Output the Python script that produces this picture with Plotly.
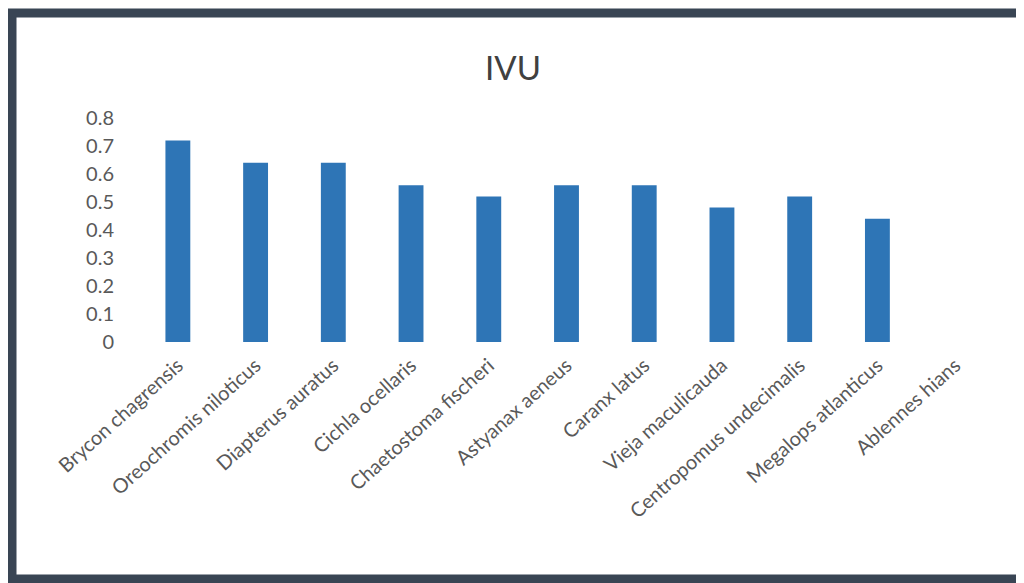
import plotly.graph_objects as go

species = [
    "Brycon chagrensis", "Oreochromis niloticus", "Diapterus auratus",
    "Cichla ocellaris", "Chaetostoma fischeri", "Astyanax aeneus",
    "Caranx latus", "Vieja maculicauda", "Centropomus undecimalis",
    "Megalops atlanticus", "Ablennes hians",
]
ivu = [0.72, 0.64, 0.64, 0.56, 0.52, 0.56, 0.56, 0.48, 0.52, 0.44, 0.0]
y_ticks = [0, 0.1, 0.2, 0.3, 0.4, 0.5, 0.6, 0.7, 0.8]
y_tick_text = ["0", "0.1", "0.2", "0.3", "0.4", "0.5", "0.6", "0.7", "0.8"]

# the page adds an 8px body margin; figure coords = screen coords - OFF
OFF = 8
W, H = 1024, 583
ML, MT = 139 - OFF, 118 - OFF
PR, PB = 994 - OFF, 342 - OFF
MR, MB = W - PR, H - PB
PW, PH = PR - ML, PB - MT


def px_x(p):
    return (p - OFF - ML) / PW


def px_y(p):
    return 1 - (p - OFF - MT) / PH


TXT = "#595959"
FONT = "Lato"

fig = go.Figure(go.Bar(x=species, y=ivu, marker=dict(color="#2E75B6", line=dict(width=0))))

fig.update_layout(
    width=W, height=H,
    margin=dict(l=ML, r=MR, t=MT, b=MB, autoexpand=False),
    paper_bgcolor="white", plot_bgcolor="white",
    bargap=0.68,
    showlegend=False,
    title=dict(text="IVU", x=(513 - OFF) / W, xref="container", y=1 - (68 - OFF) / H, yref="container",
               xanchor="center", yanchor="middle",
               font=dict(family=FONT, size=33, color="#404040")),
    font=dict(family=FONT, color=TXT),
)
fig.update_xaxes(
    tickangle=-42, tickfont=dict(family=FONT, size=20, color=TXT),
    showgrid=False, showline=False, zeroline=False,
    ticks="outside", ticklen=3, tickcolor="rgba(0,0,0,0)",
)
fig.update_yaxes(
    range=[0, 0.8], tickvals=y_ticks, ticktext=y_tick_text,
    tickfont=dict(family=FONT, size=20, color=TXT),
    showgrid=False, showline=False, zeroline=False,
    ticks="outside", ticklen=20, tickcolor="rgba(0,0,0,0)",
)

# dark frame around the chart
fig.add_shape(type="rect", xref="paper", yref="paper",
              x0=px_x(12), x1=px_x(1040), y0=px_y(579), y1=px_y(13),
              line=dict(color="#394554", width=9), fillcolor="rgba(0,0,0,0)", layer="above")

fig.write_html("out.html")
